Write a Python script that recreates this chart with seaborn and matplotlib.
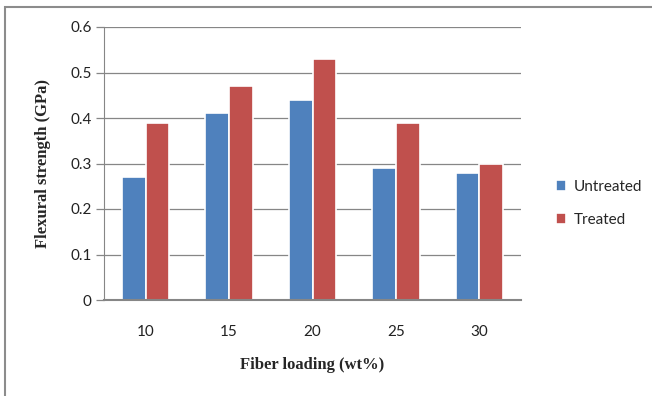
import pandas as pd
import matplotlib.pyplot as plt
import seaborn as sns
from matplotlib.patches import Rectangle

# Données
loading = ["10", "15", "20", "25", "30"]
untreated = [0.27, 0.41, 0.44, 0.29, 0.28]
treated = [0.39, 0.47, 0.53, 0.39, 0.30]

df = pd.DataFrame({
    "loading": loading * 2,
    "strength": untreated + treated,
    "type": ["Untreated"] * len(loading) + ["Treated"] * len(loading),
})

sns.set_style("white")
plt.rcParams['font.family'] = ['Lato', 'DejaVu Sans']

fig = plt.figure(figsize=(6.52, 3.96), dpi=100)
ax = fig.add_axes([104/652, 1-300/396, (521-104)/652, (300-27)/396])

sns.barplot(data=df, x="loading", y="strength", hue="type", ax=ax,
            palette=["#4F81BD", "#C0504D"], saturation=1, width=0.57,
            edgecolor="white", linewidth=1.2, legend=True)

ax.set_ylim(0, 0.6)
ax.set_xlim(-0.5, 4.5)
ax.set_yticks([0, 0.1, 0.2, 0.3, 0.4, 0.5, 0.6])
ax.set_yticklabels(["0", "0.1", "0.2", "0.3", "0.4", "0.5", "0.6"])
ax.yaxis.grid(True, color="#868686", linewidth=0.9)
ax.set_axisbelow(True)

# ticks entre les catégories, comme Excel
ax.set_xticks([0, 1, 2, 3, 4])
ax.set_xticks([-0.5, 0.5, 1.5, 2.5, 3.5, 4.5], minor=True)
ax.tick_params(axis="x", which="major", length=0, pad=18, labelsize=11, colors="#222222")
ax.tick_params(axis="x", which="minor", length=6, width=0.9, color="#868686")
ax.tick_params(axis="y", length=6, width=0.9, color="#868686", labelsize=11,
               labelcolor="#222222", left=True, pad=3)

for s in ["top", "right"]:
    ax.spines[s].set_visible(False)
ax.spines["left"].set_color("#868686")
ax.spines["bottom"].set_color("#868686")
ax.spines["bottom"].set_linewidth(1.5)

ax.set_xlabel("Fiber loading (wt%)", family="Liberation Serif", fontweight="bold",
              fontsize=12, labelpad=13)
ax.set_ylabel("Flexural strength (GPa)", family="Liberation Serif", fontweight="bold",
              fontsize=12, labelpad=14)

leg = ax.legend(loc="center left", bbox_to_anchor=(1.05, 0.355), frameon=False,
                fontsize=11, handlelength=0.7, handleheight=0.7, handletextpad=0.5,
                labelspacing=1.25)

# cadre gris autour de la figure
fig.patches.append(Rectangle((5/652, -0.1), 1.2, 1 - 7/396 + 0.1, transform=fig.transFigure,
                             fill=False, edgecolor="#8c8c8c", linewidth=1.5))

fig.savefig("out.png", dpi=100)
